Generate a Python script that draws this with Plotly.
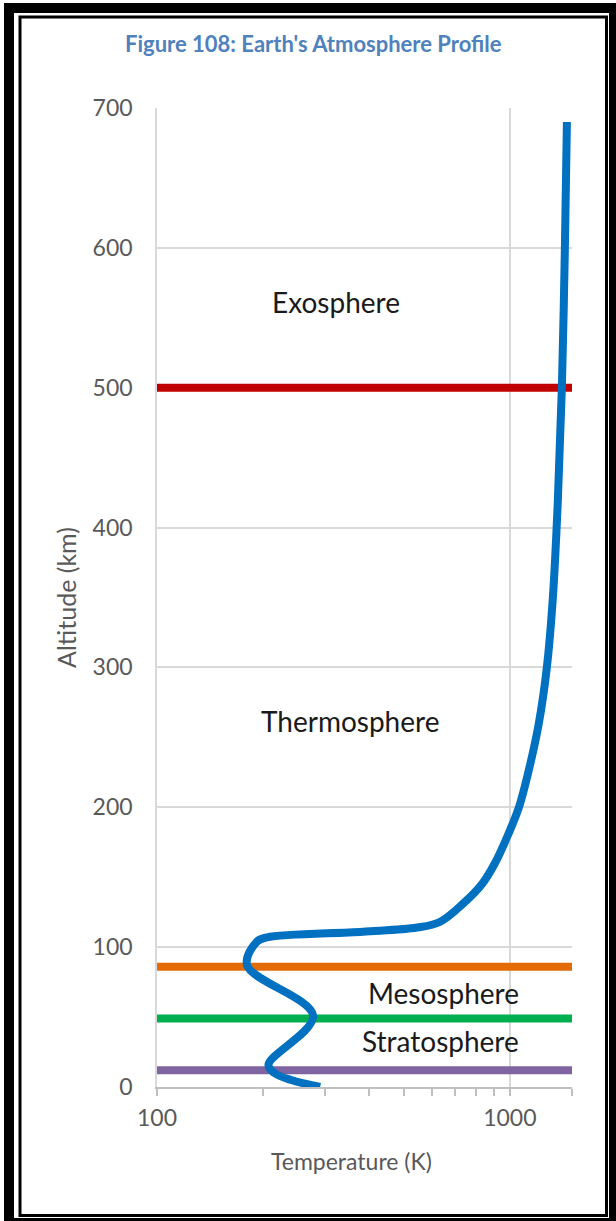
import math
import plotly.graph_objects as go

# ---- data ----
temperature_k = [290, 240, 215, 207, 277, 180, 192, 205, 383, 546, 633, 736, 833,
                 907, 987, 1061, 1140, 1208, 1273, 1324, 1368, 1404, 1432, 1451]
altitude_km = [0, 5, 10, 16, 51, 87, 104, 107, 111, 114, 118, 131, 145,
               160, 180, 200, 230, 260, 300, 350, 420, 500, 600, 690]

boundary_names = ["Tropopause", "Stratopause", "Mesopause", "Thermopause"]
boundary_alt = [12, 49, 86, 500]
boundary_colors = ["#8064A2", "#00B050", "#E36C09", "#C00000"]

layer_labels = ["Exosphere", "Thermosphere", "Mesosphere", "Stratosphere"]
layer_label_T = [321, 352, 650, 634]
layer_label_alt = [561, 262, 67, 33]

x_range = [100, 1500]
y_range = [0, 700]
x_tick_vals = [100, 1000]
x_minor_vals = [200, 300, 400, 500, 600, 700, 800, 900, 1500]
title_text = "Figure 108: Earth's Atmosphere Profile"
x_title = "Temperature (K)"
y_title = "Altitude (km)"

# ---- geometry ----
W, H = 616, 1221
ML, MR, MT, MB = 157, 44, 108, 134
PW, PH = W - ML - MR, H - MT - MB

def px(x):
    return (x - ML) / PW

def py(y):
    return (H - MB - y) / PH

FONT = "Lato"
GRID = "#d9d9d9"
TXT = "#595959"

fig = go.Figure()

for name, a, c in zip(boundary_names, boundary_alt, boundary_colors):
    fig.add_trace(go.Scatter(x=x_range, y=[a, a], mode="lines",
                             line=dict(color=c, width=8), name=name,
                             hoverinfo="skip", showlegend=False))

fig.add_trace(go.Scatter(x=temperature_k, y=altitude_km, mode="lines",
                         line=dict(color="#0070C0", width=8, shape="spline", smoothing=1.0),
                         name="Temperature", showlegend=False))

for t, x, y in zip(layer_labels, layer_label_T, layer_label_alt):
    fig.add_annotation(x=math.log10(x), y=y, xref="x", yref="y",
                       text=t, showarrow=False, xanchor="center", yanchor="middle",
                       font=dict(family=FONT, size=28, color="#1a1a1a"))

fig.add_annotation(x=px(313), y=py(44), xref="paper", yref="paper",
                   text="<b>" + title_text + "</b>", showarrow=False,
                   xanchor="center", yanchor="middle",
                   font=dict(family=FONT, size=22, color="#4F81BD"))

fig.add_annotation(x=px(351), y=py(1161), xref="paper", yref="paper",
                   text=x_title, showarrow=False,
                   xanchor="center", yanchor="middle",
                   font=dict(family=FONT, size=23, color=TXT))

# frame
shapes = []
def rect(x0, y0, x1, y1, **kw):
    shapes.append(dict(type="rect", xref="paper", yref="paper",
                       x0=px(x0), x1=px(x1), y0=py(y1), y1=py(y0), layer="above", **kw))

rect(4, 3, 14, 1221, fillcolor="black", line=dict(width=0))
rect(4, 3, 616, 13, fillcolor="black", line=dict(width=0))
rect(609, 3, 616, 1221, fillcolor="black", line=dict(width=0))
rect(4, 1218, 616, 1221, fillcolor="black", line=dict(width=0))
rect(20, 17, 606.5, 1215.5, line=dict(color="black", width=3))

fig.update_layout(
    width=W, height=H,
    margin=dict(l=ML, r=MR, t=MT, b=MB, autoexpand=False),
    paper_bgcolor="white", plot_bgcolor="white",
    shapes=shapes,
    showlegend=False,
    xaxis=dict(type="log", range=[math.log10(x_range[0]), math.log10(x_range[1])],
               tickvals=x_tick_vals, ticktext=[str(v) for v in x_tick_vals],
               showgrid=True, gridcolor=GRID, gridwidth=1.5,
               showline=True, linecolor="#bfbfbf", linewidth=1.5,
               ticks="outside", ticklen=7, tickcolor="#bfbfbf", tickwidth=1.5,
               minor=dict(tickvals=x_minor_vals,
                          ticks="outside", ticklen=7, tickcolor="#bfbfbf", tickwidth=1.5,
                          showgrid=False),
               ticklabelstandoff=3,
               tickfont=dict(family=FONT, size=23, color=TXT),
               zeroline=False),
    yaxis=dict(range=y_range, dtick=100,
               showgrid=True, gridcolor=GRID, gridwidth=1.5,
               showline=True, linecolor=GRID, linewidth=1.5,
               ticks="", ticklabelstandoff=18,
               tickfont=dict(family=FONT, size=23, color=TXT),
               title=dict(text=y_title, standoff=9,
                          font=dict(family=FONT, size=25, color=TXT)),
               zeroline=False),
)

fig.write_html("out.html", config={"displayModeBar": False},
               post_script="document.body.style.margin='0';document.body.style.overflow='hidden';")
